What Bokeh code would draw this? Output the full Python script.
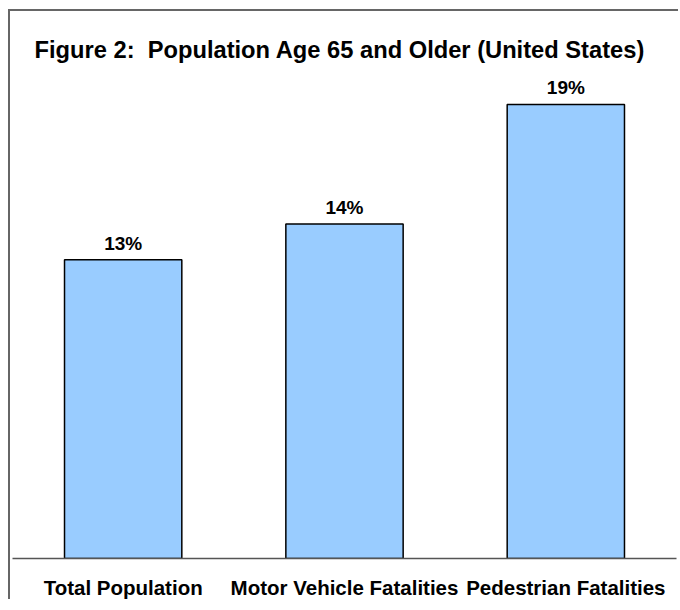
from bokeh.plotting import figure
from bokeh.models import ColumnDataSource, LabelSet, Range1d
from bokeh.core.properties import value
from bokeh.embed import file_html
from bokeh.resources import INLINE

categories = ["Total Population", "Motor Vehicle Fatalities", "Pedestrian Fatalities"]
values = [12.5, 14.0, 19.0]
value_labels = ["13%", "14%", "19%"]

FONT = "Liberation Sans"

source = ColumnDataSource(data=dict(cat=categories, val=values, lab=value_labels))

p = figure(
    x_range=categories,
    y_range=Range1d(0, 20),
    width=670,
    height=590,
    output_backend="svg",
    toolbar_location=None,
    title="Figure 2:\u00a0 Population Age 65 and Older (United States)",
    min_border_left=2,
    min_border_right=4,
    min_border_top=69,
    min_border_bottom=43,
)
p.styles = {
    "margin-left": "10px",
    "margin-top": "11px",
    "box-shadow": "-2px -2px 0px 0px #666666",
    "overflow": "hidden",
}

p.title.text_font = FONT
p.title.text_font_size = "23.7px"
p.title.text_font_style = "bold"
p.title.text_color = "#000000"
p.title.align = "left"
p.title.offset = 22
p.title.standoff = 36

p.vbar(x="cat", top="val", width=0.53, source=source,
       fill_color="#99CCFF", line_color="#000000", line_width=1.5)

labels = LabelSet(x="cat", y="val", text="lab", source=source,
                  text_align="center", text_baseline="alphabetic", y_offset=10,
                  text_font=value(FONT), text_font_size=value("19px"), text_font_style="bold",
                  text_color="#000000")
p.add_layout(labels)

p.yaxis.visible = False
p.xgrid.grid_line_color = None
p.ygrid.grid_line_color = None
p.outline_line_color = None

xa = p.xaxis[0]
xa.axis_line_color = "#555555"
xa.axis_line_width = 1.5
xa.major_tick_line_color = None
xa.minor_tick_line_color = None
xa.major_label_text_font = FONT
xa.major_label_text_font_size = "20.5px"
xa.major_label_text_font_style = "bold"
xa.major_label_text_color = "#000000"
xa.major_label_standoff = 11

open("out.html", "w").write(file_html(p, INLINE))
